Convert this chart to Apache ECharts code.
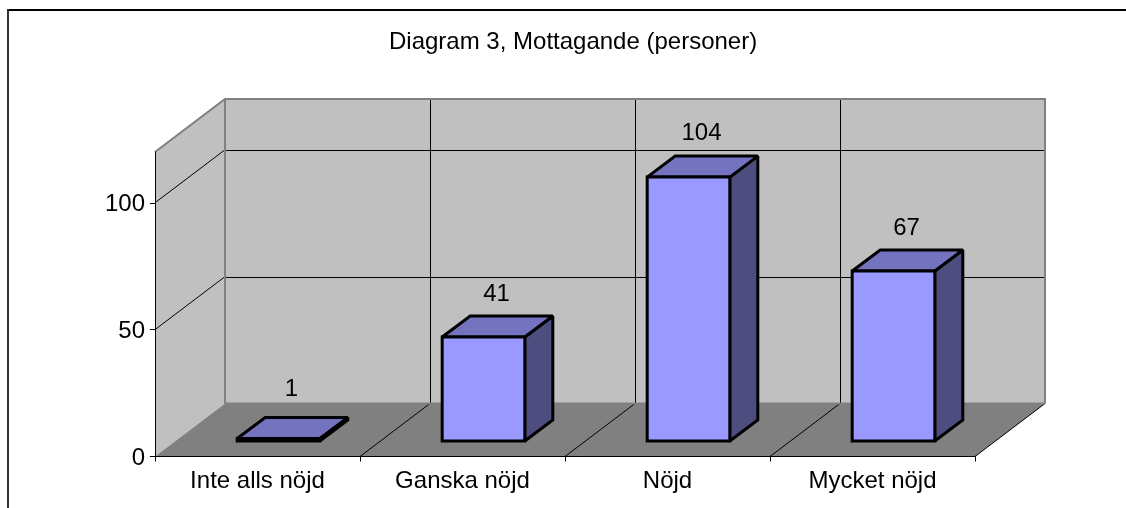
<!DOCTYPE html>
<html>
<head>
<meta charset="utf-8">
<style>html,body{margin:0;padding:0;background:#fff}#c{width:1126px;height:508px}</style>
<script src="https://cdn.jsdelivr.net/npm/echarts@6/dist/echarts.min.js"></script>
</head>
<body>
<div id="c"></div>
<script>
var titleText = 'Diagram 3, Mottagande (personer)';
var categories = ['Inte alls nöjd', 'Ganska nöjd', 'Nöjd', 'Mycket nöjd'];
var values = [1, 41, 104, 67];
var yTicks = [0, 50, 100];
var yMax = 120;

var FONT = '"Liberation Sans", Arial, sans-serif';
var DEPTH = [70, -53];          // projected floor depth
var BAR_OFF = [21, -15.5];      // bar front face offset inside the floor
var BAR_DEPTH = [28, -21];      // bar own depth
var BAR_RATIO = 0.403;
var LABEL_LIFT = [28.5, 21.5, 22.5, 21.5];

function hair(v) { return Math.round(v) + 0.5; }
function poly(pts, fill, stroke, w) {
  return { type: 'polygon', shape: { points: pts },
    style: { fill: fill, stroke: stroke || null, lineWidth: w || 0, lineJoin: 'miter', miterLimit: 2 } };
}
function seg(x1, y1, x2, y2, color, w) {
  return { type: 'line', shape: { x1: x1, y1: y1, x2: x2, y2: y2 },
    style: { stroke: color, lineWidth: w || 1, fill: null } };
}

function renderWalls(params, api) {
  var step = api.size([1, 0])[0];
  var n = categories.length;
  var x0 = api.coord([0, 0])[0] - step / 2;
  var x1 = x0 + step * n;
  var yB = api.coord([0, 0])[1];
  var yT = api.coord([0, yMax])[1];
  var dx = DEPTH[0], dy = DEPTH[1];
  var kids = [];
  // side wall, back wall, floor
  kids.push(poly([[x0, yB], [x0, yT], [x0 + dx, yT + dy], [x0 + dx, yB + dy]], '#C0C0C0'));
  kids.push(poly([[x0 + dx, yT + dy], [x1 + dx, yT + dy], [x1 + dx, yB + dy], [x0 + dx, yB + dy]], '#C0C0C0'));
  kids.push(poly([[x0, yB], [x1, yB], [x1 + dx, yB + dy], [x0 + dx, yB + dy]], '#808080'));
  // horizontal gridlines
  yTicks.forEach(function (t) {
    if (t === 0) return;
    var y = api.coord([0, t])[1];
    kids.push(seg(x0, y, x0 + dx, y + dy, '#000', 1));
    kids.push(seg(x0 + dx, hair(y + dy), x1 + dx, hair(y + dy), '#000', 1));
  });
  // vertical gridlines and floor lines
  for (var i = 1; i < n; i++) {
    var x = x0 + step * i;
    kids.push(seg(hair(x + dx), yT + dy, hair(x + dx), yB + dy, '#000', 1));
    kids.push(seg(x, yB, x + dx, yB + dy, '#000', 1));
  }
  kids.push(seg(x1, yB, x1 + dx, yB + dy, '#000', 1));
  // wall frame
  kids.push({ type: 'polyline', shape: { points: [[x0, yT], [x0 + dx, yT + dy], [x1 + dx, yT + dy], [x1 + dx, yB + dy]] },
    style: { stroke: '#808080', lineWidth: 2, fill: null } });
  kids.push(seg(x0 + dx, yT + dy, x0 + dx, yB + dy, '#808080', 2));
  kids.push(seg(x0 + dx, yB + dy, x1 + dx, yB + dy, '#808080', 2));
  return { type: 'group', children: kids };
}

function renderBar(params, api) {
  var i = api.value(0), v = api.value(1);
  var step = api.size([1, 0])[0];
  var w = step * BAR_RATIO;
  var base = api.coord([i, 0]);
  var top = api.coord([i, v]);
  var l = base[0] + BAR_OFF[0] - w / 2, r = l + w;
  var yb = base[1] + BAR_OFF[1], yt = top[1] + BAR_OFF[1];
  var dx = BAR_DEPTH[0], dy = BAR_DEPTH[1];
  return { type: 'group', children: [
    poly([[r, yb], [r, yt], [r + dx, yt + dy], [r + dx, yb + dy]], '#4D4D80', '#000', 3),
    poly([[l, yt], [r, yt], [r + dx, yt + dy], [l + dx, yt + dy]], '#7373BF', '#000', 3),
    poly([[l, yb], [r, yb], [r, yt], [l, yt]], '#9999FF', '#000', 3),
    { type: 'text', style: {
        x: (l + r) / 2 + 13, y: yt + dy - LABEL_LIFT[params.dataIndex],
        text: String(v), fill: '#000', font: '24px ' + FONT,
        align: 'center', verticalAlign: 'middle' } }
  ] };
}

var chart = echarts.init(document.getElementById('c'), null, { renderer: 'canvas' });
chart.setOption({
  animation: false,
  backgroundColor: '#fff',
  title: { text: titleText, left: 384, top: 25,
    textStyle: { fontFamily: FONT, fontSize: 24, fontWeight: 'normal', color: '#000' } },
  grid: { left: 155, right: 151, top: 152, bottom: 51.5, containLabel: false },
  xAxis: { type: 'category', data: categories, z: 2,
    axisLine: { show: true, lineStyle: { color: '#000', width: 1 } },
    axisTick: { show: true, alignWithLabel: false, length: 5, lineStyle: { color: '#000' } },
    axisLabel: { color: '#000', fontFamily: FONT, fontSize: 24, margin: 13, interval: 0 },
    splitLine: { show: false } },
  yAxis: { type: 'value', min: 0, max: yMax, z: 2,
    axisLine: { show: true, lineStyle: { color: '#000', width: 1 } },
    axisTick: { show: true, length: 5, lineStyle: { color: '#000' }, customValues: yTicks },
    axisLabel: { margin: 10, customValues: yTicks, formatter: '{a|{value}}',
      rich: { a: { color: '#000', fontFamily: FONT, fontSize: 24, padding: [4, 0, 0, 0] } } },
    splitLine: { show: false } },
  graphic: [
    { type: 'rect', z: 100, shape: { x: 8, y: 9, width: 1118, height: 2 }, style: { fill: '#000' } },
    { type: 'rect', z: 100, shape: { x: 7, y: 9, width: 2, height: 499 }, style: { fill: '#333' } }
  ],
  series: [
    { type: 'custom', z: 1, silent: true, coordinateSystem: 'cartesian2d', clip: false,
      renderItem: renderWalls, data: [[0, 0]], encode: { x: 0, y: 1 } },
    { type: 'custom', z: 3, silent: true, coordinateSystem: 'cartesian2d', clip: false,
      renderItem: renderBar,
      data: values.map(function (v, i) { return [i, v]; }), encode: { x: 0, y: 1 } }
  ]
});
</script>
</body>
</html>
